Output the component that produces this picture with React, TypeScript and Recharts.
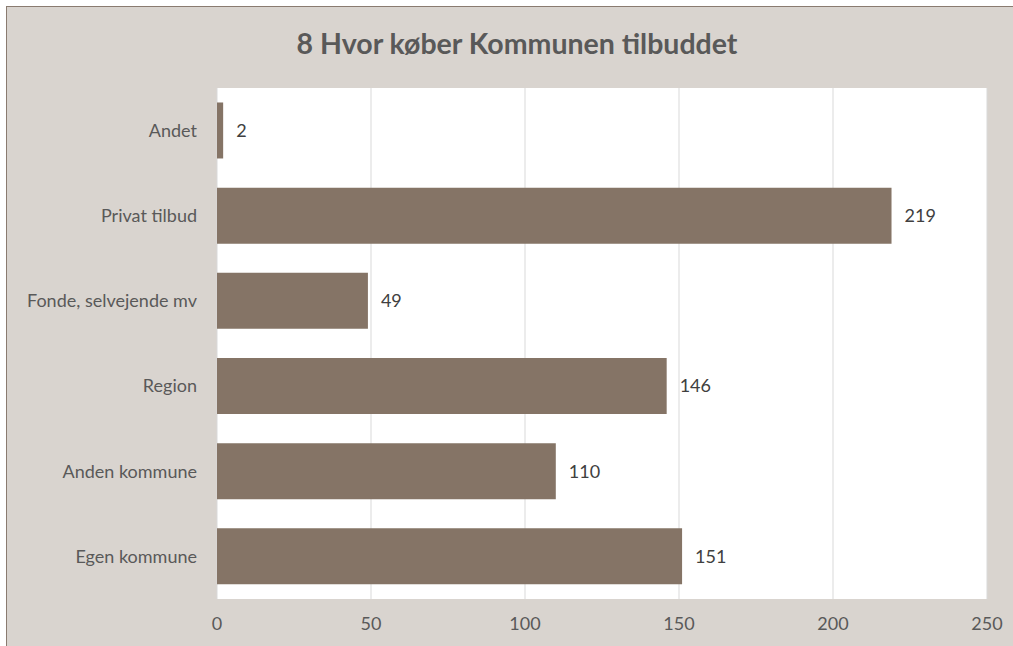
import React from 'react';
import { BarChart, Bar, XAxis, YAxis, CartesianGrid, LabelList } from 'recharts';

const categories = ['Andet', 'Privat tilbud', 'Fonde, selvejende mv', 'Region', 'Anden kommune', 'Egen kommune'];
const values = [2, 219, 49, 146, 110, 151];
const xTicks = [0, 50, 100, 150, 200, 250];
const title = '8 Hvor køber Kommunen tilbuddet';

const data = categories.map((c, i) => ({ name: c, value: values[i] }));

const FONT = 'Lato, "Open Sans", sans-serif';
const TEXT = '#595959';

export default function App() {
  return (
    <div style={{ position: 'absolute', left: 0, top: 0, width: 1013, height: 646, background: '#ffffff', overflow: 'hidden' }}>
      <div style={{ position: 'absolute', left: 6, top: 6, width: 1020, height: 660, background: '#d9d4cf', border: '1.5px solid #8a7b70', boxSizing: 'border-box' }} />
      <div style={{ position: 'absolute', left: 0, width: 1034, top: 25, textAlign: 'center', fontFamily: FONT, fontWeight: 700, fontSize: 28.5, color: TEXT, lineHeight: '36px' }}>
        {title}
      </div>
      <div style={{ position: 'absolute', left: 0, top: 0 }}>
        <BarChart
          width={1013}
          height={646}
          data={data}
          layout="vertical"
          margin={{ top: 88, right: 26, bottom: 17, left: 0 }}
          barCategoryGap="17%"
        >
          <CartesianGrid horizontal={false} stroke="#d9d9d9" fill="#ffffff" />
          <XAxis
            type="number"
            domain={[0, 250]}
            ticks={xTicks}
            axisLine={false}
            tickLine={false}
            height={30}
            tickMargin={12}
            tick={{ fill: TEXT, fontSize: 18, fontFamily: FONT }}
          />
          <YAxis
            type="category"
            dataKey="name"
            width={217}
            axisLine={false}
            tickLine={false}
            tickSize={0}
            tickMargin={20}
            tick={{ fill: TEXT, fontSize: 18, fontFamily: FONT }}
          />
          <Bar dataKey="value" fill="#857466" isAnimationActive={false}>
            <LabelList dataKey="value" position="right" offset={13} fill="#404040" fontSize={18} fontFamily={FONT} />
          </Bar>
        </BarChart>
      </div>
    </div>
  );
}
